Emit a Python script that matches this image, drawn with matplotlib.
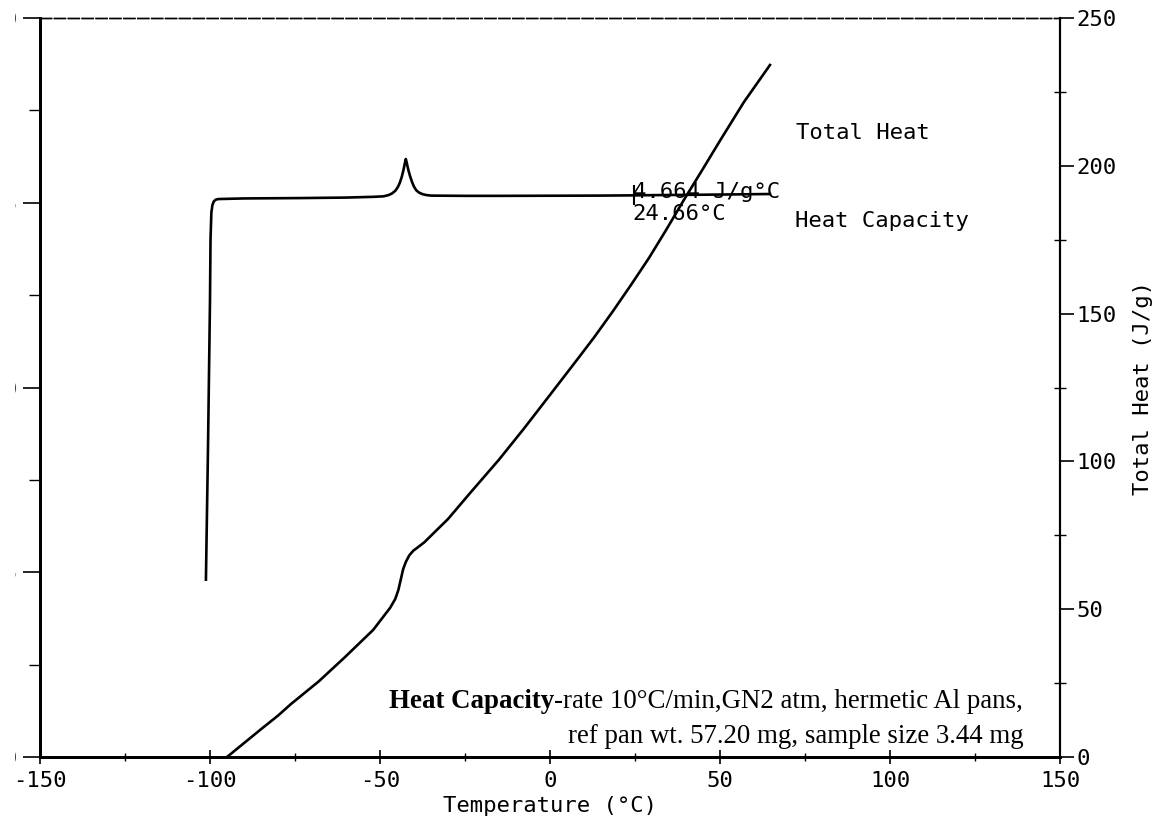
import matplotlib
matplotlib.use('Agg')
import matplotlib.pyplot as plt
from matplotlib.transforms import Bbox, TransformedBbox

MONO = 'DejaVu Sans Mono'
SERIF = 'Liberation Serif'

# heat capacity trace (left axis)
hc_temp = [-101.2, -100.6, -100.0, -99.85, -99.6, -99.3, -98.9, -98.3, -97.6, -90,
           -73.5, -60, -52, -49, -47.5, -46.5, -45.5, -44.8, -44.2, -43.6,
           -43.1, -42.7, -42.4, -42.1, -41.7, -41.2, -40.6, -40.0, -39.3, -38.5,
           -37.5, -36.5, -35, -25, -14.7, 0, 14.7, 24.66, 35, 44.1,
           55, 64.7]
hc_val = [1.44, 2.49, 3.71, 4.20, 4.42, 4.48, 4.51, 4.525, 4.53, 4.535,
          4.538, 4.542, 4.548, 4.552, 4.562, 4.575, 4.597, 4.625, 4.66, 4.71,
          4.765, 4.82, 4.855, 4.82, 4.77, 4.72, 4.67, 4.63, 4.60, 4.582,
          4.57, 4.563, 4.558, 4.556, 4.556, 4.557, 4.558, 4.56, 4.563, 4.565,
          4.568, 4.571]

# total heat trace (right axis)
th_temp = [-95.0, -90, -85, -80, -76.2, -68, -60.3, -52, -49, -47,
           -45.5, -44.6, -43.9, -43.2, -42.4, -41.4, -40.2, -38.8, -37, -34,
           -30, -23.5, -15, -7.6, 0, 7.9, 13, 18.5, 24, 29.1,
           34, 39.4, 45, 50, 57, 64.7]
th_val = [0, 4.7, 9.4, 14.0, 17.9, 25.6, 33.8, 43, 47.5, 50.5,
          53.5, 56.5, 60, 63.5, 66, 68.2, 69.8, 71, 72.6, 76,
          80.5, 89.3, 100.6, 111.2, 122.5, 134.3, 142, 150.8, 160, 168.8,
          178, 188.5, 199, 208.5, 221.5, 234.1]

x_ticks = [-150, -100, -50, 0, 50, 100, 150]
left_ticks = [0, 1.5, 3.0, 4.5, 6.0]
right_ticks = [0, 50, 100, 150, 200, 250]

fig = plt.figure(figsize=(11.57, 8.17), dpi=100)
ax = fig.add_axes([40 / 1157, 60 / 817, 1020 / 1157, 739 / 817])
ax2 = ax.twinx()

ax.plot(hc_temp, hc_val, color='black', lw=1.9, solid_joinstyle='round')
ax.plot([24.66], [4.56], marker='|', ms=14, mew=1.5, color='black')
ax2.plot(th_temp, th_val, color='black', lw=1.9, solid_joinstyle='round')

ax.set_xlim(-150, 150)
ax.set_ylim(0, 6.0)
ax2.set_ylim(0, 250)

ax.set_xticks(x_ticks)
ax.set_xticks([-125, -75, -25, 25, 75, 125], minor=True)
ax.set_xticklabels([str(t) for t in x_ticks], family=MONO, fontsize=16)
ax.set_yticks(left_ticks)
ax.set_yticks([0.75, 2.25, 3.75, 5.25], minor=True)
ax.set_yticklabels(['%.1f' % t for t in left_ticks], family=MONO, fontsize=16)
ax2.set_yticks(right_ticks)
ax2.set_yticks([25, 75, 125, 175, 225], minor=True)
ax2.set_yticklabels([str(t) for t in right_ticks], family=MONO, fontsize=16)

ax.tick_params(axis='x', which='major', direction='inout', length=10, width=1.2, pad=5)
ax.tick_params(axis='x', which='minor', direction='inout', length=6, width=1.0)
ax.tick_params(axis='y', which='major', direction='out', length=12, width=1.2, pad=4)
ax.tick_params(axis='y', which='minor', direction='out', length=8, width=1.0)
ax2.tick_params(axis='y', which='major', direction='out', length=10, width=1.2, pad=2)
ax2.tick_params(axis='y', which='minor', direction='inout', length=8, width=1.0)

for a in (ax, ax2):
    a.spines['left'].set_linewidth(2.0)
    a.spines['bottom'].set_linewidth(2.0)
    a.spines['right'].set_linewidth(1.5)
    a.spines['top'].set_linewidth(1.0)
    a.spines['top'].set_linestyle((0, (8, 2)))

ax.set_xlabel('Temperature (°C)', family=MONO, fontsize=16, labelpad=4)
ax2.set_ylabel('Total Heat (J/g)', family=MONO, fontsize=16, labelpad=12)

ax.text(24.3, 4.54, '4.664 J/g°C', family=MONO, fontsize=16, ha='left', va='baseline')
ax.text(24.3, 4.36, '24.66°C', family=MONO, fontsize=16, ha='left', va='baseline')
ax.text(72.5, 5.02, 'Total Heat', family=MONO, fontsize=16, ha='left', va='baseline')
ax.text(72.0, 4.30, 'Heat Capacity', family=MONO, fontsize=16, ha='left', va='baseline')

note1 = ax.text(139.2, 0.40, '-rate 10°C/min,GN2 atm, hermetic Al pans,',
                family=SERIF, fontsize=19.4, ha='right', va='baseline')
ax.annotate('Heat Capacity', xy=(0, 0), xycoords=note1, ha='right', va='bottom',
            family=SERIF, fontsize=19.4, fontweight='bold')
ax.text(139.2, 0.115, 'ref pan wt. 57.20 mg, sample size 3.44 mg',
        family=SERIF, fontsize=19.4, ha='right', va='baseline')

# only a sliver of the left labels survives at the page edge
fig.canvas.draw()
clip = TransformedBbox(Bbox([[15 / 1157, 0], [40 / 1157, 1]]), fig.transFigure)
for lab in ax.get_yticklabels():
    lab.set_clip_box(clip)
    lab.set_clip_on(True)

fig.savefig('out.png', dpi=100)
